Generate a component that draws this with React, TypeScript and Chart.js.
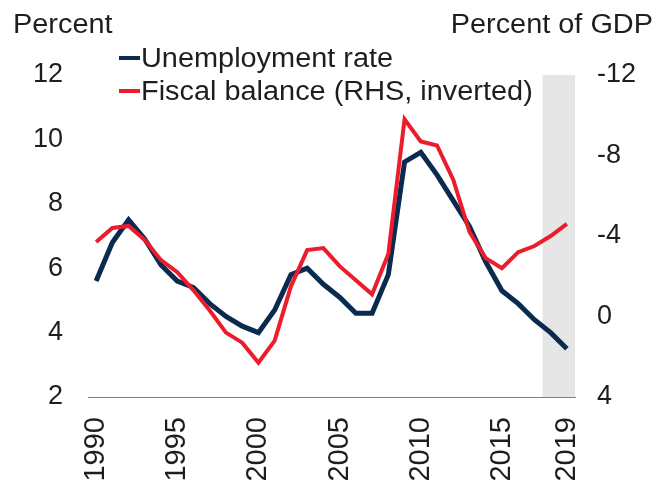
import React, { useEffect, useRef } from "react";
import { Chart, registerables } from "chart.js";

Chart.register(...registerables);

const years = [
  "1990", "1991", "1992", "1993", "1994", "1995", "1996", "1997", "1998", "1999",
  "2000", "2001", "2002", "2003", "2004", "2005", "2006", "2007", "2008", "2009",
  "2010", "2011", "2012", "2013", "2014", "2015", "2016", "2017", "2018", "2019",
];
const shownYears = ["1990", "1995", "2000", "2005", "2010", "2015", "2019"];
const shadedYears = ["2018", "2019"];

const unemploymentRate = [
  5.6, 6.8, 7.5, 6.9, 6.1, 5.6, 5.4, 4.9, 4.5, 4.2,
  4.0, 4.7, 5.8, 6.0, 5.5, 5.1, 4.6, 4.6, 5.8, 9.3,
  9.6, 8.9, 8.1, 7.3, 6.2, 5.3, 4.9, 4.4, 4.0, 3.5,
];
const fiscalBalance = [
  -3.7, -4.4, -4.5, -3.8, -2.8, -2.2, -1.3, -0.3, 0.8, 1.3,
  2.3, 1.2, -1.5, -3.3, -3.4, -2.5, -1.8, -1.1, -3.1, -9.8,
  -8.7, -8.5, -6.8, -4.2, -2.9, -2.4, -3.2, -3.5, -4.0, -4.6,
];

const leftTitle = "Percent";
const rightTitle = "Percent of GDP";
const seriesNames = ["Unemployment rate", "Fiscal balance (RHS, inverted)"];

const BLUE = "#0a2b50";
const RED = "#ec1c2d";
const TEXT = "#1e1e1e";
const FONT = "'Liberation Sans', Arial, sans-serif";

export default function App() {
  const ref = useRef<HTMLCanvasElement | null>(null);

  useEffect(() => {
    const canvas = ref.current;
    if (!canvas) return;

    const shadePlugin = {
      id: "shade",
      beforeDraw(chart: any) {
        const { ctx, chartArea, scales } = chart;
        const x = scales.x;
        const half = (x.getPixelForValue(1) - x.getPixelForValue(0)) / 2;
        const i0 = years.indexOf(shadedYears[0]);
        const i1 = years.indexOf(shadedYears[shadedYears.length - 1]);
        const x0 = x.getPixelForValue(i0) - half;
        const x1 = x.getPixelForValue(i1) + half;
        ctx.save();
        ctx.fillStyle = "#e6e6e6";
        ctx.fillRect(x0, chartArea.top, x1 - x0, chartArea.bottom - chartArea.top);
        ctx.restore();
      },
    };

    const SX = 1.07;
    const drawText = (ctx: any, text: string, x: number, y: number, align: "left" | "right") => {
      ctx.save();
      ctx.translate(x, y);
      ctx.scale(SX, 1);
      ctx.textAlign = align;
      ctx.textBaseline = "alphabetic";
      ctx.fillText(text, 0, 0);
      ctx.restore();
    };

    const textPlugin = {
      id: "texts",
      afterDraw(chart: any) {
        const { ctx } = chart;
        ctx.save();
        ctx.fillStyle = TEXT;
        ctx.font = `27px ${FONT}`;
        drawText(ctx, leftTitle, 13, 33, "left");
        drawText(ctx, rightTitle, 653, 33, "right");
        const colors = [BLUE, RED];
        const baselines = [67, 100];
        for (let i = 0; i < seriesNames.length; i++) {
          ctx.strokeStyle = colors[i];
          ctx.lineWidth = 4;
          ctx.beginPath();
          ctx.moveTo(119, baselines[i] - 9);
          ctx.lineTo(140, baselines[i] - 9);
          ctx.stroke();
          ctx.fillStyle = TEXT;
          drawText(ctx, seriesNames[i], 141, baselines[i], "left");
        }
        ctx.restore();
      },
    };

    const chart = new Chart(canvas, {
      type: "line",
      data: {
        labels: years,
        datasets: [
          {
            label: seriesNames[0],
            data: unemploymentRate,
            borderColor: BLUE,
            backgroundColor: BLUE,
            borderWidth: 5,
            pointRadius: 0,
            tension: 0,
            yAxisID: "y",
            order: 1,
          },
          {
            label: seriesNames[1],
            data: fiscalBalance,
            borderColor: RED,
            backgroundColor: RED,
            borderWidth: 4,
            pointRadius: 0,
            tension: 0,
            yAxisID: "y1",
            order: 0,
          },
        ],
      },
      options: {
        responsive: false,
        animation: false,
        layout: { padding: { top: 75, left: 0, right: 0, bottom: 0 } },
        plugins: {
          legend: { display: false },
          tooltip: { enabled: false },
          title: { display: false },
        },
        scales: {
          x: {
            type: "category",
            offset: true,
            grid: { display: false, drawTicks: false },
            border: { display: true, color: "#808080", width: 1 },
            ticks: {
              autoSkip: false,
              minRotation: 90,
              maxRotation: 90,
              padding: 20,
              color: TEXT,
              font: { family: FONT, size: 29 },
              callback: (_v: any, i: number) => (shownYears.includes(years[i]) ? years[i] : ""),
            },
            afterFit: (s: any) => {
              s.height = 84;
            },
          },
          y: {
            position: "left",
            min: 2,
            max: 12,
            grid: { display: false, drawTicks: false },
            border: { display: false },
            ticks: {
              stepSize: 2,
              padding: 25,
              color: TEXT,
              font: { family: FONT, size: 27 },
            },
            afterFit: (s: any) => {
              s.width = 88;
            },
          },
          y1: {
            position: "right",
            min: -12,
            max: 4,
            reverse: true,
            grid: { display: false, drawTicks: false },
            border: { display: false },
            ticks: {
              stepSize: 4,
              padding: 22,
              color: TEXT,
              font: { family: FONT, size: 27 },
            },
            afterFit: (s: any) => {
              s.width = 82;
            },
          },
        },
      },
      plugins: [shadePlugin, textPlugin],
    });

    return () => chart.destroy();
  }, []);

  return (
    <div style={{ position: "fixed", left: 0, top: 0, width: 657, height: 481, background: "#fff" }}>
      <canvas ref={ref} width={657} height={481} style={{ display: "block", width: 657, height: 481 }} />
    </div>
  );
}
